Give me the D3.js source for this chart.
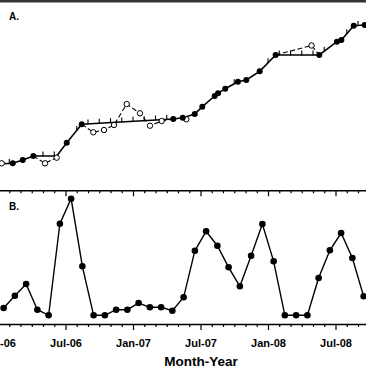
<!DOCTYPE html>
<html><head><meta charset="utf-8">
<script src="https://cdn.jsdelivr.net/npm/d3@7"></script>
<style>
html,body{margin:0;padding:0;background:#fff;}
svg{display:block;font-family:"Liberation Sans",Arial,Helvetica,sans-serif;}
</style></head>
<body>
<svg id="c" width="366" height="366"></svg>
<script>
// ---- Data ----
// month index: 0 = Jan-06 (start of month)
const monthTickLabels = ["Jan-06","Jul-06","Jan-07","Jul-07","Jan-08","Jul-08"];
const monthTickValues = [0,6,12,18,24,30];

// Panel A: main (solid) line
const aLineMonth = [0.0,1.31,2.2,3.14,5.22,6.11,7.44,15.58,16.42,17.49,18.16,19.26,19.56,20.2,21.33,22.07,23.26,24.68,28.56,30.13,30.52,31.62,32.6];
const aLineValue = [6,6.7,10,14,14,27.3,45.7,51,52.3,56,63.3,74,76.7,81.3,88.3,90,98.7,115,115,128.3,130,144.3,145];
const aLineObserved = [0,1,1,1,0,1,1,1,1,1,1,1,1,1,1,1,1,1,1,1,1,1,1];
// Panel A: open (deviating) observations
const aOpenMonth = [0.33,4.18,5.22,8.47,9.42,10.31,11.44,12.62,13.51,14.55,16.74,27.87];
const aOpenValue = [6.7,6.7,12.3,37.7,40,45,66,56.7,44.3,49,50.7,124.5];
// Panel A: dashed connections (month, value)
const aDashSegments = [
  [[3.14,14],[4.18,6.7],[5.22,12.3]],
  [[7.44,45.7],[8.47,37.7],[9.42,40],[10.31,45],[11.44,66],[12.62,56.7],[13.51,44.3],[14.55,49],[15.58,51]],
  [[24.68,115],[27.87,124.5],[28.56,115]]
];
// Panel A: month-start marks on the estimated line
const aTickMonth = [1,4,5,7,8,9,10,11,12,13,14,15,21,24,25,26,27,28,29,31,32];

// Panel B: monthly values Jan-06 .. Sep-08
const bValue = [0.73,1.96,3.13,0.56,0,9.16,11.66,4.9,0,0,0.56,0.56,
                1.23,0.8,0.8,0.46,1.8,6.46,8.4,6.96,4.8,2.9,5.96,9.13,
                5.4,0,0,0,3.73,6.5,8.23,5.73,1.9];

// ---- Drawing ----
const svg = d3.select("#c");
svg.append("rect").attr("x",0).attr("y",0).attr("width",366).attr("height",2.5).attr("fill","#333");

const x = d3.scaleLinear().domain([0,33]).range([-2,369.25]);
const yA = d3.scaleLinear().domain([0,150]).range([170,20]);
const yB = d3.scaleLinear().domain([-0.87,12.5]).range([324,190.3]);

// Panel A
const gA = svg.append("g");
const lineA = d3.line().x(d=>x(d[0])).y(d=>yA(d[1]));
gA.selectAll("path.dash").data(aDashSegments).join("path")
  .attr("d",lineA).attr("fill","none").attr("stroke","#000")
  .attr("stroke-width",1.1).attr("stroke-dasharray","5,2.5");
const aLine = aLineMonth.map((m,i)=>[m,aLineValue[i]]);
gA.append("path").attr("d",lineA(aLine)).attr("fill","none")
  .attr("stroke","#000").attr("stroke-width",1.6);
const interpA = m => {
  for (let i=1;i<aLineMonth.length;i++){
    if (m<=aLineMonth[i]){
      const t=(m-aLineMonth[i-1])/(aLineMonth[i]-aLineMonth[i-1]);
      return aLineValue[i-1]+t*(aLineValue[i]-aLineValue[i-1]);
    }
  }
  return aLineValue[aLineValue.length-1];
};
gA.selectAll("line.tk").data(aTickMonth).join("line")
  .attr("x1",d=>x(d)).attr("x2",d=>x(d))
  .attr("y1",d=>yA(interpA(d))-4.5).attr("y2",d=>yA(interpA(d))+0.5)
  .attr("stroke","#000").attr("stroke-width",1.1);
gA.selectAll("circle.op").data(aOpenMonth).join("circle")
  .attr("cx",d=>x(d)).attr("cy",(d,i)=>yA(aOpenValue[i])).attr("r",2.7)
  .attr("fill","#fff").attr("stroke","#000").attr("stroke-width",1);
gA.selectAll("circle.fl").data(aLine.filter((d,i)=>aLineObserved[i])).join("circle")
  .attr("cx",d=>x(d[0])).attr("cy",d=>yA(d[1])).attr("r",3).attr("fill","#000");
svg.append("text").attr("x",9).attr("y",19.5).attr("font-size",10).attr("font-weight","bold").text("A.");

// Panel B axes
const months = d3.range(0,34);
const axTop = svg.append("g").attr("transform",`translate(0,${yB.range()[1]})`)
  .call(d3.axisTop(x).tickValues(months).tickSizeInner(-3).tickSizeOuter(0).tickFormat(""));
axTop.selectAll(".tick line").filter(d=>monthTickValues.includes(d)).attr("y2",6);
const axBot = svg.append("g").attr("transform",`translate(0,${yB.range()[0]})`)
  .call(d3.axisBottom(x).tickValues(months).tickSizeInner(3).tickSizeOuter(0)
    .tickFormat(d=>{const k=monthTickValues.indexOf(d);return k>=0?monthTickLabels[k]:"";}));
axBot.selectAll(".tick line").filter(d=>monthTickValues.includes(d)).attr("y2",6);
[axTop,axBot].forEach(a=>{
  a.select(".domain").attr("stroke","#000").attr("stroke-width",1.6);
  a.selectAll(".tick line").attr("stroke","#000").attr("stroke-width",1.2);
});
axBot.selectAll(".tick text").attr("y",16).attr("dy","0.71em")
  .attr("font-size",11).attr("font-weight","bold").attr("fill","#000")
  .attr("font-family","\"Liberation Sans\",Arial,sans-serif");
axBot.selectAll(".tick text").attr("dy",null).attr("y",23);

// Panel B series
const bPts = bValue.map((v,i)=>[i+0.5,v]);
svg.append("path").attr("d",d3.line().x(d=>x(d[0])).y(d=>yB(d[1]))(bPts))
  .attr("fill","none").attr("stroke","#000").attr("stroke-width",1.4);
svg.selectAll("circle.b").data(bPts).join("circle")
  .attr("cx",d=>x(d[0])).attr("cy",d=>yB(d[1])).attr("r",3.3).attr("fill","#000");
svg.append("text").attr("x",9).attr("y",209.5).attr("font-size",10).attr("font-weight","bold").text("B.");

svg.append("text").attr("x",201).attr("y",365.5).attr("text-anchor","middle")
  .attr("font-size",13.5).attr("font-weight","bold").text("Month-Year");
</script>
</body></html>
